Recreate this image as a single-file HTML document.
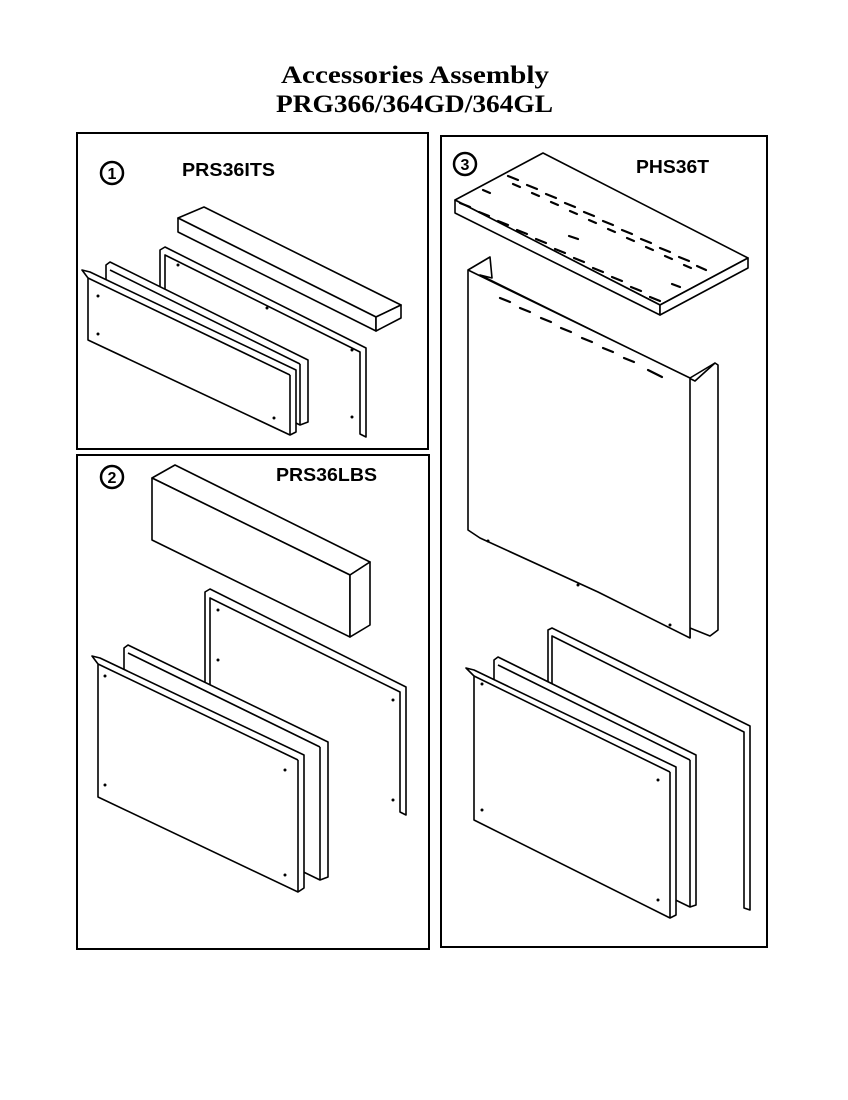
<!DOCTYPE html>
<html><head><style>
html,body{margin:0;padding:0;background:#fff;}
svg{display:block;}
.t{font-family:"Liberation Serif",serif;font-weight:bold;font-size:25px;}
.l{font-family:"Liberation Sans",sans-serif;font-weight:bold;font-size:18px;}
.n{font-family:"Liberation Sans",sans-serif;font-weight:bold;font-size:16px;}
</style></head><body>
<svg width="848" height="1100" viewBox="0 0 848 1100" xmlns="http://www.w3.org/2000/svg">
<rect width="848" height="1100" fill="#fff"/>
<text class="t" x="281" y="83" textLength="268" lengthAdjust="spacingAndGlyphs">Accessories Assembly</text>
<text class="t" x="276" y="112" textLength="277" lengthAdjust="spacingAndGlyphs">PRG366/364GD/364GL</text>
<g fill="none" stroke="#000" stroke-width="2">
<rect x="77" y="133" width="351" height="316"/>
<rect x="77" y="455" width="352" height="494"/>
<rect x="441" y="136" width="326" height="811"/>
<circle cx="112" cy="173" r="11" stroke-width="2.5"/>
<circle cx="112" cy="477" r="11" stroke-width="2.5"/>
<circle cx="465" cy="164" r="11" stroke-width="2.5"/>
</g>
<text class="n" x="112" y="179" text-anchor="middle">1</text>
<text class="n" x="112" y="483" text-anchor="middle">2</text>
<text class="n" x="465" y="170" text-anchor="middle">3</text>
<text class="l" x="182" y="176" textLength="93" lengthAdjust="spacingAndGlyphs">PRS36ITS</text>
<text class="l" x="276" y="481" textLength="101" lengthAdjust="spacingAndGlyphs">PRS36LBS</text>
<text class="l" x="636" y="173" textLength="73" lengthAdjust="spacingAndGlyphs">PHS36T</text>

<g fill="#fff" stroke="#000" stroke-width="1.6" stroke-linejoin="round">
<!-- panel 1 -->
<polygon points="160,250 165,247 366,348 366,437 360,434 360,352 165,255 165,340 160,338"/>
<polygon points="178,218 204,207 401,305 376,317"/>
<polygon points="178,218 376,317 376,331 178,232"/>
<polygon points="376,317 401,305 401,318 376,331"/>
<polygon points="106,265 110,262 308,360 308,422 300,425 106,330"/>
<line x1="110" y1="270" x2="300" y2="364"/>
<line x1="300" y1="364" x2="300" y2="425"/>
<polygon points="82,270 90,272 296,370 296,432 290,435 88,340 88,278"/>
<line x1="88" y1="278" x2="290" y2="375"/>
<line x1="290" y1="375" x2="290" y2="435"/>
<!-- panel 2 -->
<polygon points="205,592 210,589 406,687 406,815 400,812 400,692 210,598 210,720 205,718"/>
<polygon points="152,478 175,465 370,562 350,575"/>
<polygon points="152,478 350,575 350,637 152,540"/>
<polygon points="350,575 370,562 370,625 350,637"/>
<polygon points="124,648 128,645 328,742 328,877 320,880 124,785"/>
<line x1="128" y1="653" x2="320" y2="747"/>
<line x1="320" y1="747" x2="320" y2="880"/>
<polygon points="92,656 100,658 304,755 304,888 298,892 98,797 98,664"/>
<line x1="98" y1="664" x2="298" y2="760"/>
<line x1="298" y1="760" x2="298" y2="892"/>
<!-- panel 3 -->
<polygon points="548,630 552,628 750,726 750,910 744,908 744,732 552,636 552,815 548,813"/>
<polygon points="494,660 498,657 696,755 696,905 690,907 494,812"/>
<line x1="498" y1="665" x2="690" y2="760"/>
<line x1="690" y1="760" x2="690" y2="907"/>
<polygon points="466,668 474,670 676,767 676,915 670,918 474,820 474,676"/>
<line x1="474" y1="676" x2="670" y2="772"/>
<line x1="670" y1="772" x2="670" y2="918"/>
<polygon points="468,270 490,257 492,278 480,275 695,381 715,363 718,365 718,630 710,636 690,628 690,638 598,592 480,538 468,530"/>
<polyline points="468,270 690,378 690,638"/>
<line x1="690" y1="378" x2="715" y2="363"/>
<polygon points="455,200 543,153 748,258 660,305"/>
<polygon points="455,200 660,305 660,315 455,213"/>
<polygon points="660,305 748,258 748,268 660,315"/>
</g>
<g stroke="#000" stroke-width="2.2" stroke-linecap="round">
<line x1="500" y1="298" x2="510" y2="302"/><line x1="520" y1="308" x2="530" y2="312"/>
<line x1="541" y1="318" x2="551" y2="322"/><line x1="561" y1="328" x2="571" y2="332"/>
<line x1="582" y1="338" x2="592" y2="342"/><line x1="603" y1="348" x2="613" y2="352"/>
<line x1="624" y1="358" x2="634" y2="362"/><line x1="648" y1="370" x2="662" y2="377"/>
<line x1="460" y1="203" x2="470" y2="207"/><line x1="479" y1="212" x2="489" y2="216"/>
<line x1="498" y1="221" x2="508" y2="225"/><line x1="517" y1="230" x2="527" y2="234"/>
<line x1="536" y1="239" x2="546" y2="243"/><line x1="555" y1="249" x2="565" y2="253"/>
<line x1="574" y1="258" x2="584" y2="262"/><line x1="593" y1="268" x2="603" y2="272"/>
<line x1="612" y1="277" x2="622" y2="281"/><line x1="631" y1="287" x2="641" y2="291"/>
<line x1="650" y1="297" x2="660" y2="301"/>
<line x1="483" y1="190" x2="490" y2="193"/>
<line x1="508" y1="176" x2="518" y2="180"/><line x1="513" y1="184" x2="520" y2="187"/>
<line x1="527" y1="185" x2="537" y2="189"/><line x1="532" y1="193" x2="539" y2="196"/>
<line x1="546" y1="194" x2="556" y2="198"/><line x1="551" y1="202" x2="558" y2="205"/>
<line x1="565" y1="203" x2="575" y2="207"/><line x1="570" y1="211" x2="577" y2="214"/>
<line x1="584" y1="212" x2="594" y2="216"/><line x1="589" y1="220" x2="596" y2="223"/>
<line x1="603" y1="221" x2="613" y2="225"/><line x1="608" y1="229" x2="615" y2="232"/>
<line x1="622" y1="230" x2="632" y2="234"/><line x1="627" y1="238" x2="634" y2="241"/>
<line x1="641" y1="239" x2="651" y2="243"/><line x1="646" y1="247" x2="653" y2="250"/>
<line x1="660" y1="248" x2="670" y2="252"/><line x1="665" y1="256" x2="672" y2="259"/>
<line x1="679" y1="257" x2="689" y2="261"/><line x1="684" y1="265" x2="691" y2="268"/>
<line x1="697" y1="266" x2="706" y2="270"/><line x1="569" y1="236" x2="578" y2="239"/>
<line x1="672" y1="284" x2="680" y2="287"/>
</g>
<g fill="#000">
<circle cx="98" cy="296" r="1.5"/><circle cx="98" cy="334" r="1.5"/><circle cx="274" cy="418" r="1.5"/>
<circle cx="178" cy="265" r="1.5"/><circle cx="267" cy="308" r="1.5"/><circle cx="352" cy="350" r="1.5"/><circle cx="352" cy="417" r="1.5"/>
<circle cx="105" cy="676" r="1.5"/><circle cx="105" cy="785" r="1.5"/><circle cx="285" cy="770" r="1.5"/><circle cx="285" cy="875" r="1.5"/>
<circle cx="218" cy="610" r="1.5"/><circle cx="218" cy="660" r="1.5"/><circle cx="393" cy="700" r="1.5"/><circle cx="393" cy="800" r="1.5"/>
<circle cx="482" cy="684" r="1.5"/><circle cx="482" cy="810" r="1.5"/><circle cx="658" cy="780" r="1.5"/><circle cx="658" cy="900" r="1.5"/>
<circle cx="488" cy="541" r="1.5"/><circle cx="578" cy="585" r="1.5"/><circle cx="670" cy="625" r="1.5"/>
</g>
</svg>
</body></html>
